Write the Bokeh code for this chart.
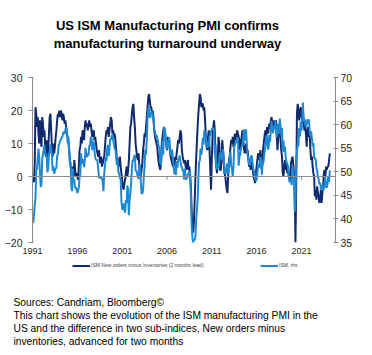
import numpy as np
from bokeh.plotting import figure
from bokeh.layouts import column
from bokeh.models import Range1d, LinearAxis, FixedTicker, Span, Legend, LegendItem, Title
from bokeh.core.properties import value
from bokeh.embed import file_html
from bokeh.resources import INLINE

# ---------------- data (monthly, Jan 1991 - Mar 2024) ----------------
start_year = 1991
ism_pmi = [
    39.2, 39.4, 40.7, 42.8, 44.5, 50.3, 50.6, 52.9, 54.9, 53.1, 49.5, 46.8,
    47.3, 52.7, 53.7, 54.6, 55.7, 53.6, 53.9, 53.3, 49.9, 50.7, 53.6, 54.2,
    55.8, 55.2, 53.5, 50.2, 51.2, 49.6, 50.2, 50.7, 50.8, 53.4, 53.8, 55.6,
    56.0, 56.5, 56.9, 57.2, 57.5, 58.1, 58.5, 58.0, 59.0, 59.4, 59.1, 56.1,
    57.4, 55.1, 52.1, 52.0, 46.7, 45.9, 50.7, 47.8, 48.4, 46.5, 46.7, 46.2,
    45.5, 46.1, 46.6, 48.9, 49.5, 53.9, 51.7, 52.5, 52.6, 51.0, 52.3, 55.1,
    53.6, 53.1, 53.9, 53.4, 55.5, 55.6, 57.2, 57.4, 54.6, 56.5, 56.1, 54.4,
    53.0, 52.5, 52.6, 52.2, 50.6, 48.8, 48.8, 49.0, 48.5, 48.7, 47.9, 45.9,
    49.6, 51.2, 53.1, 52.3, 54.9, 55.7, 53.3, 54.9, 57.0, 56.8, 57.6, 57.8,
    56.7, 55.8, 54.9, 54.7, 53.2, 51.4, 52.5, 49.9, 49.7, 48.7, 48.5, 43.9,
    42.3, 41.9, 43.1, 43.2, 41.3, 44.0, 43.4, 47.1, 46.2, 40.8, 44.1, 45.3,
    47.5, 50.7, 52.4, 52.4, 53.1, 53.6, 50.2, 50.3, 49.5, 49.0, 48.5, 51.6,
    51.3, 47.8, 45.4, 45.4, 46.1, 49.0, 51.0, 54.7, 53.7, 57.0, 61.4, 63.4,
    63.6, 61.4, 62.5, 62.4, 62.8, 61.1, 62.0, 59.0, 58.5, 57.5, 57.8, 57.3,
    56.4, 55.3, 55.2, 52.3, 51.4, 53.8, 56.6, 53.6, 59.4, 59.1, 58.1, 55.6,
    54.8, 56.7, 55.2, 57.3, 53.7, 53.8, 54.7, 54.5, 52.9, 51.2, 49.5, 51.4,
    49.3, 52.3, 50.9, 52.6, 52.9, 53.4, 52.3, 51.2, 51.0, 50.4, 50.0, 48.4,
    50.7, 48.3, 48.6, 48.6, 49.6, 49.5, 50.0, 49.9, 44.8, 38.9, 36.2, 34.9,
    35.6, 35.5, 36.0, 39.5, 41.7, 44.0, 48.4, 52.0, 52.4, 54.9, 53.6, 54.9,
    57.2, 55.8, 58.8, 58.1, 57.7, 55.3, 55.1, 56.4, 55.2, 57.7, 57.6, 58.5,
    59.0, 59.3, 59.1, 58.9, 53.7, 55.8, 50.9, 50.6, 51.6, 50.8, 52.7, 53.9,
    54.1, 52.4, 53.4, 54.8, 53.5, 49.7, 49.8, 49.6, 51.5, 51.7, 49.5, 50.7,
    53.1, 54.2, 51.3, 50.7, 49.0, 50.9, 55.4, 55.7, 56.2, 56.4, 57.3, 57.0,
    51.3, 53.2, 53.7, 54.9, 55.4, 55.3, 57.1, 59.0, 56.6, 59.0, 58.7, 55.5,
    53.5, 52.9, 51.5, 51.5, 52.8, 53.5, 52.7, 51.1, 50.2, 50.1, 48.6, 48.2,
    48.2, 49.5, 51.8, 50.8, 51.3, 53.2, 52.6, 49.4, 51.5, 51.9, 53.2, 54.7,
    56.0, 57.7, 57.2, 54.8, 54.9, 57.8, 56.3, 58.8, 60.8, 58.7, 58.2, 59.7,
    59.1, 60.8, 59.3, 57.3, 58.7, 60.2, 58.1, 61.3, 59.8, 57.7, 59.3, 54.3,
    56.6, 54.2, 55.3, 52.8, 52.1, 51.7, 51.2, 49.1, 47.8, 48.3, 48.1, 47.2,
    50.9, 50.1, 49.1, 41.5, 43.1, 52.6, 54.2, 56.0, 55.4, 59.3, 57.5, 60.7,
    58.7, 60.8, 64.7, 60.7, 61.2, 60.6, 59.5, 59.9, 61.1, 60.8, 61.1, 58.7,
    57.6, 58.6, 57.1, 55.4, 56.1, 53.0, 52.8, 52.8, 50.9, 50.2, 49.0, 48.4,
    47.4, 47.7, 46.3, 47.1, 46.9, 46.0, 46.4, 47.6, 49.0, 46.7, 46.7, 47.4,
    49.1, 47.8, 50.3,
]
new_orders_minus_inv = [
    -0.5, -1.5, -1.5, 4, 21, 19, 15, 18, 13, 10, 17, 12,
    9, 18, 16, 12, 14, 9, 6, 11, 5, 8, 13, 18,
    19, 14, 9, 6, 10, 7, 9, 12, 14, 17, 19, 18,
    20, 18, 20, 19, 17, 19, 18, 16, 17, 15, 13, 12,
    11, 8, 5, 3, 2, 1, 3, 0, 5, 2, 0, 1,
    0, -1, 3, 8, 9, 12, 10, 14, 13, 11, 15, 17,
    15, 16, 14, 16, 17, 15, 16, 14, 12, 13, 14, 11,
    12, 10, 8, 7, 6, 8, 5, 4, 6, 3, 4, 5,
    6, 9, 12, 14, 13, 15, 12, 14, 16, 18, 17, 13,
    14, 12, 13, 11, 8, 5, 4, 3, 5, 6, 3, 1,
    -1, -3, -4, -2, -1, 1, 3, 0, 2, 5, 10, 15,
    16, 19, 21, 22, 18, 15, 10, 8, 6, 5, 7, 3,
    1, 0, 2, 4, 8, 10, 13, 12, 15, 18, 21, 24,
    25, 23, 21, 21, 19, 20, 17, 14, 12, 11, 10, 9,
    6, 4, 3, 2, 4, 10, 12, 14, 15, 14, 11, 10,
    8, 12, 10, 11, 8, 6, 5, 4, 3, 4, 2, 6,
    5, 7, 9, 11, 10, 12, 14, 13, 8, 6, 5, 4,
    5, 3, 2, 4, 5, 2, 3, 0, -3, -10, -15, -17,
    -14, -8, -1, 5, 10, 15, 19, 22, 25, 24, 21, 22,
    22, 20, 21, 17, 12, 9, 8, 12, 14, 8, 2, -4,
    5, 12, 15, 17, 14, 6, 3, 1, 5, 12, 10, 2,
    2, 5, 11, 8, 4, 1, 0, -2, -4, -5, 1, 5,
    6, 9, 11, 10, 12, 9, 11, 13, 11, 12, 14, 13,
    12, 11, 8, 10, 12, 14, 11, 9, 7, 8, 10, 7,
    8, 5, 3, 4, 2, 6, 4, 2, 0, -1, -2, 1,
    3, 5, 7, 6, 5, 8, 4, 2, 6, 9, 11, 13,
    14, 12, 15, 13, 14, 16, 15, 17, 18, 16, 14, 17,
    16, 15, 17, 12, 8, 13, 15, 14, 11, 8, 6, 1,
    0, 3, 5, 2, 4, 1, 3, 0, 1, -1, 4, 5,
    6, 4, 1, -2, -20, -3, 19, 22, 20, 17, 19, 21,
    19, 17, 20, 16, 14, 15, 13, 9, 14, 15, 12, 13,
    8, 5, 6, 3, 1, 0, -6, -4, -7, -3, -5, -6,
    -8, -7, -4, -8, -5, -3, 1, 2, 0, 3, 2, 3,
    3, 5, 7,
]
tick_years = [1991, 1996, 2001, 2006, 2011, 2016, 2021]
left_ticks = [-20, -10, 0, 10, 20, 30]
right_ticks = [35, 40, 45, 50, 55, 60, 65, 70]

title_lines = ["US ISM Manufacturing PMI confirms", "manufacturing turnaround underway"]
footer_lines = [
    "Sources: Candriam, Bloomberg\u00a9",
    "This chart shows the evolution of the ISM manufacturing PMI in the",
    "US and the difference in two sub-indices, New orders minus",
    "inventories, advanced for two months",
]
legend_dark = "ISM New orders minus Inventories (2 months lead)"
legend_light = "ISM, rhs"

# ---------------- styling ----------------
DARK = "#102A6C"
LIGHT = "#1E88D0"
AXIS = "#8C8C8C"
TXT = "#262626"
FONT = "Liberation Sans"
W = 372
FL, FR = 32, 335   # frame left / right in page pixels (shared by the column)


def blank(height, y_top, y_bottom, **kw):
    f = figure(width=W, height=height, output_backend="svg", toolbar_location=None,
               x_range=Range1d(FL, FR), y_range=Range1d(y_bottom, y_top), **kw)
    f.axis.visible = False
    f.xgrid.visible = False
    f.ygrid.visible = False
    f.outline_line_color = None
    f.background_fill_color = "white"
    f.border_fill_color = "white"
    return f


# ---------------- title ----------------
pt = blank(60, 0, 60, min_border_top=0, min_border_bottom=0)
pt.text(x=[167, 167], y=[24.5, 43], text=title_lines, text_align="center",
        text_baseline="alphabetic", text_font=value(FONT), text_font_style="bold",
        text_font_size="13px", text_color="#000000")

# ---------------- chart ----------------
x_dark = start_year + np.arange(len(new_orders_minus_inv)) / 12.0
x_ism = start_year + np.arange(len(ism_pmi)) / 12.0

p = figure(width=W, height=200, output_backend="svg", toolbar_location=None,
           x_range=Range1d(1991.0, 2024.8), y_range=Range1d(-20, 30),
           min_border_left=FL, min_border_right=W - FR, min_border_top=17, min_border_bottom=18)
p.extra_y_ranges = {"rhs": Range1d(35, 70)}
p.outline_line_color = None
p.xgrid.visible = False
p.ygrid.visible = False
p.background_fill_color = "white"
p.border_fill_color = "white"

xa = p.xaxis[0]
xa.ticker = FixedTicker(ticks=tick_years)
xa.axis_line_color = None
xa.major_tick_line_color = None
xa.minor_tick_line_color = None
xa.major_tick_out = 0
xa.major_tick_in = 0
xa.major_label_standoff = 5
xa.major_label_text_font = FONT
xa.major_label_text_font_size = "9px"
xa.major_label_text_color = TXT

ya = p.yaxis[0]
ya.ticker = FixedTicker(ticks=left_ticks)
ya.axis_line_color = AXIS
ya.major_tick_line_color = AXIS
ya.minor_tick_line_color = None
ya.major_tick_out = 4
ya.major_tick_in = 1
ya.major_label_standoff = 6
ya.major_label_text_font = FONT
ya.major_label_text_font_size = "10.5px"
ya.major_label_text_color = TXT

ra = LinearAxis(y_range_name="rhs", ticker=FixedTicker(ticks=right_ticks))
ra.axis_line_color = AXIS
ra.major_tick_line_color = AXIS
ra.minor_tick_line_color = None
ra.major_tick_out = 3
ra.major_tick_in = 2
ra.major_label_standoff = 2
ra.major_label_text_font = FONT
ra.major_label_text_font_size = "10.5px"
ra.major_label_text_color = TXT
p.add_layout(ra, "right")

p.add_layout(Span(location=0, dimension="width", line_color=AXIS, line_width=1))
p.segment(x0=tick_years, x1=tick_years, y0=[0] * len(tick_years), y1=[-1] * len(tick_years),
          line_color=AXIS, line_width=1)

p.line(x_dark, new_orders_minus_inv, line_color=DARK, line_width=2)
p.line(x_ism, ism_pmi, line_color=LIGHT, line_width=2, y_range_name="rhs")

# ---------------- legend + footer ----------------
pf = blank(95, 0, 1, min_border_top=0, min_border_bottom=60)
# legend proxies (their data lies outside the visible frame)
rd = pf.line(x=[0, 1], y=[0.5, 0.5], line_color=DARK, line_width=2)
rl = pf.line(x=[0, 1], y=[0.5, 0.5], line_color=LIGHT, line_width=2)
for rend, lab, lx in [(rd, legend_dark, 72 - FL), (rl, legend_light, 260 - FL)]:
    lg = Legend(items=[LegendItem(label=lab, renderers=[rend])], location=(lx, 26.5),
                orientation="horizontal", padding=0, margin=0, spacing=0,
                glyph_width=18, glyph_height=7, label_height=7, label_standoff=1,
                label_text_font=FONT, label_text_font_size="5px", label_text_color="#404040",
                background_fill_alpha=0, border_line_alpha=0)
    pf.add_layout(lg)

for line in footer_lines:
    pf.add_layout(Title(text=line, align="left", offset=13 - FL, vertical_align="middle",
                        standoff=0, text_font=FONT, text_font_size="10.25px",
                        text_font_style="normal", text_color="#000000"), "below")

layout = column(pt, p, pf, spacing=0)
open("out.html", "w").write(file_html(layout, INLINE))
